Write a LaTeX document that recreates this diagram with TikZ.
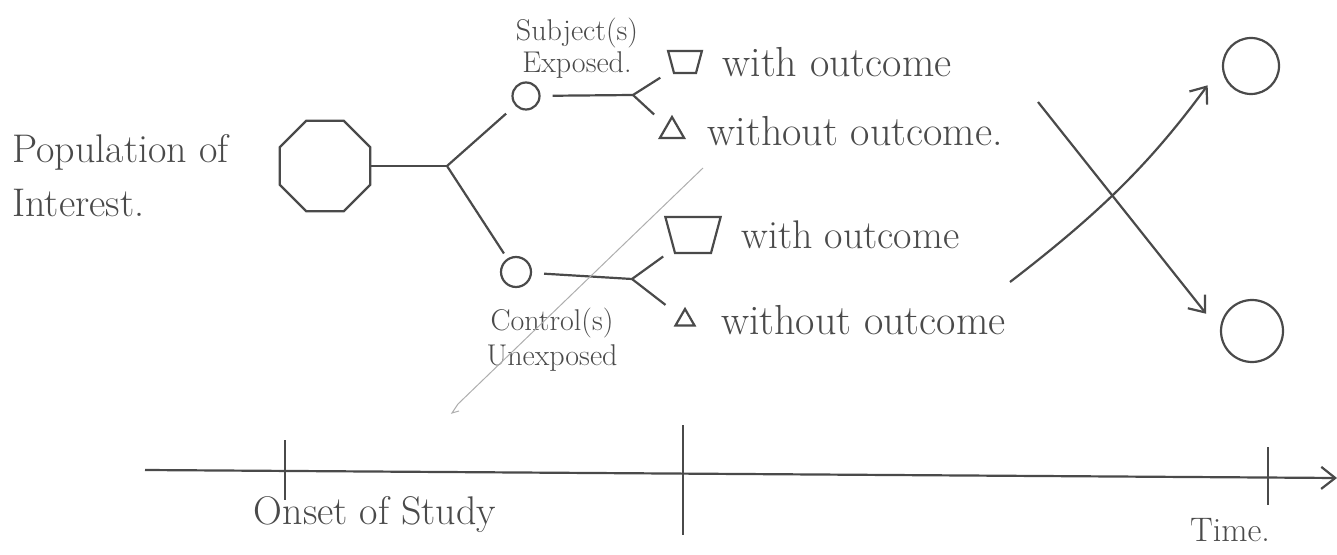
\documentclass[tikz,border=0pt]{standalone}
\usepackage{tikz}
\usetikzlibrary{shapes.geometric,arrows.meta,positioning,calc}
\definecolor{pencil}{HTML}{4A4A4A}
\tikzset{
  ink/.style={draw=pencil, line width=1.1pt},
  note/.style={text=pencil, inner sep=0pt},
  dot/.style={circle, ink, inner sep=0pt},
  cup/.style={trapezium, trapezium left angle=75, trapezium right angle=75, shape border rotate=180, ink, inner sep=1pt},
  tri/.style={regular polygon, regular polygon sides=3, ink, inner sep=0pt},
}

\begin{document}
\begin{tikzpicture}[x=0.5pt,y=-0.5pt, >={Straight Barb[length=7pt,width=11pt]}]
    \useasboundingbox (0,0) rectangle (1337,555);

    % population and the split
    \node[note, font=\fontsize{20}{27}\selectfont, align=left, anchor=west] (pop) at (12,176) {Population of\\Interest.};
    \node[regular polygon, regular polygon sides=8, ink, minimum size=49pt, inner sep=0pt] (oct) at (325,166) {};
    \coordinate (fork0) at (447,166);
    \node[dot, minimum size=13.5pt] (exp) at (526,96) {};
    \node[dot, minimum size=15pt] (ctl) at (516,272) {};
    \draw[ink] (oct.east) -- (fork0);
    \draw[ink, shorten >=6pt] (fork0) -- (exp);
    \draw[ink, shorten >=3pt] (fork0) -- (ctl);

    \node[note, font=\fontsize{15}{16}\selectfont, align=center] (subj) at (577,48) {Subject(s)\\Exposed.};
    \node[note, font=\fontsize{15}{17.5}\selectfont, align=center] (ctltext) at (552,340) {Control(s)\\Unexposed};

    % exposed branch
    \coordinate (fork1) at (633,95);
    \node[cup, minimum width=9pt, minimum height=11pt] (sq1) at (685,62) {};
    \node[tri, minimum size=14pt] (tri1) at (672,131) {};
    \draw[ink, shorten <=6pt] (exp) -- (fork1);
    \draw[ink, shorten >=7pt] (fork1) -- (sq1);
    \draw[ink, shorten >=8pt] (fork1) -- (tri1);
    \node[note, font=\fontsize{21}{24}\selectfont, right=11pt of sq1] (with1) {with outcome};
    \node[note, font=\fontsize{21}{24}\selectfont, right=13pt of tri1] (without1) {without outcome.};

    % unexposed branch
    \coordinate (fork2) at (632,279);
    \node[cup, minimum width=17pt, minimum height=18pt] (sq2) at (693,235) {};
    \node[tri, minimum size=11pt] (tri2) at (685,320) {};
    \draw[ink, shorten <=6pt] (ctl) -- (fork2);
    \draw[ink, shorten >=6pt] (fork2) -- (sq2);
    \draw[ink, shorten >=9pt] (fork2) -- (tri2);
    \node[note, font=\fontsize{20}{24}\selectfont, right=12pt of sq2] (with2) {with outcome};
    \node[note, font=\fontsize{21}{24}\selectfont, right=14pt of tri2] (without2) {without outcome};

    % stray pencil stroke
    \draw[pencil!45, line width=0.5pt] (703,168) -- (458,404) -- (452,413) -- (459,411);

    % crossing outcomes
    \node[dot, minimum size=28pt] (out1) at (1251,66) {};
    \node[dot, minimum size=31pt] (out2) at (1252,331) {};
    \coordinate (a1) at (1010,282);
    \coordinate (a2) at (1038,102);
    \draw[ink, ->, shorten >=12pt] (a1) to[bend right=8] (out1.west);
    \draw[ink, ->, shorten >=11pt] (a2) -- (out2.west);

    % time axis
    \coordinate (t0) at (145,470);
    \coordinate (t1) at (1337,478);
    \draw[ink, ->] (t0) -- (t1);
    \foreach \x/\a/\b in {285/440/500, 683/425/535, 1268/447/505}
        \draw[ink] (\x,\a) -- (\x,\b);
    \node[note, font=\fontsize{20}{24}\selectfont] (onset) at (375,515) {Onset of Study};
    \node[note, font=\fontsize{17}{20}\selectfont] (time) at (1230,530) {Time.};
  \end{tikzpicture}
\end{document}
